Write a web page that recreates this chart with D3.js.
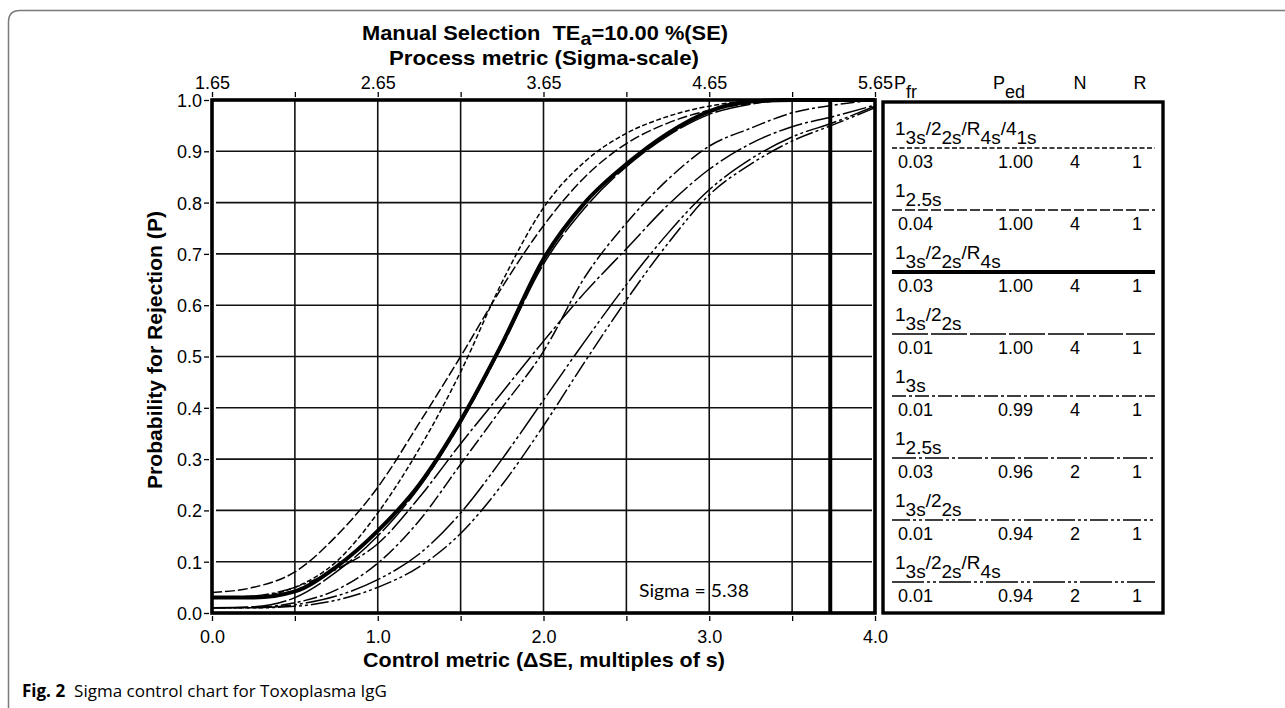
<!DOCTYPE html>
<html>
<head>
<meta charset="utf-8">
<script src="https://cdn.jsdelivr.net/npm/d3@7"></script>
<style>
  body { margin: 0; background: #fff; }
  svg { display: block; }
  .num { font-family: "Liberation Sans", Arial, sans-serif; font-size: 18px; fill: #000; }
  .narrow { font-family: "Liberation Sans Narrow", "Arial Narrow", "Liberation Sans", sans-serif; font-weight: bold; white-space: pre; }
</style>
</head>
<body>
<svg id="chart" width="1285" height="708"></svg>
<script>
// Control metric grid (ΔSE) at which curves were read
const deltaSE = [0, 0.25, 0.5, 0.75, 1.0, 1.25, 1.5, 1.75, 2.0, 2.25, 2.5, 2.75, 3.0, 3.25, 3.5, 3.75, 4.0];

// Probability of rejection per QC procedure (legend order)
const p_13s22sR4s41s_N4 = [0.03, 0.032, 0.05, 0.10, 0.195, 0.32, 0.47, 0.645, 0.79, 0.88, 0.935, 0.968, 0.988, 0.998, 1.0, 1.0, 1.0];
const p_125s_N4         = [0.04, 0.05, 0.08, 0.15, 0.245, 0.37, 0.50, 0.635, 0.755, 0.85, 0.915, 0.955, 0.98, 0.993, 1.0, 1.0, 1.0];
const p_13s22sR4s_N4    = [0.03, 0.03, 0.042, 0.09, 0.16, 0.25, 0.375, 0.525, 0.69, 0.80, 0.875, 0.935, 0.978, 0.997, 1.0, 1.0, 1.0];
const p_13s22s_N4       = [0.01, 0.012, 0.03, 0.08, 0.15, 0.245, 0.37, 0.52, 0.68, 0.79, 0.87, 0.93, 0.972, 0.992, 1.0, 1.0, 1.0];
const p_13s_N4          = [0.01, 0.011, 0.02, 0.045, 0.097, 0.18, 0.29, 0.40, 0.51, 0.655, 0.76, 0.845, 0.91, 0.945, 0.975, 0.99, 1.0];
const p_125s_N2         = [0.03, 0.033, 0.05, 0.085, 0.135, 0.225, 0.33, 0.43, 0.53, 0.625, 0.71, 0.795, 0.865, 0.915, 0.948, 0.968, 0.99];
const p_13s22s_N2       = [0.01, 0.01, 0.013, 0.025, 0.05, 0.09, 0.155, 0.25, 0.365, 0.49, 0.61, 0.72, 0.815, 0.875, 0.92, 0.952, 0.985];
const p_13s22sR4s_N2    = [0.01, 0.01, 0.016, 0.033, 0.065, 0.115, 0.195, 0.30, 0.415, 0.53, 0.64, 0.74, 0.825, 0.885, 0.928, 0.956, 0.988];

// Legend table
const rules = ["1_3s/2_2s/R_4s/4_1s", "1_2.5s", "1_3s/2_2s/R_4s", "1_3s/2_2s", "1_3s", "1_2.5s", "1_3s/2_2s", "1_3s/2_2s/R_4s"];
const pfr = ["0.03", "0.04", "0.03", "0.01", "0.01", "0.03", "0.01", "0.01"];
const ped = ["1.00", "1.00", "1.00", "1.00", "0.99", "0.96", "0.94", "0.94"];
const nVals = ["4", "4", "4", "4", "4", "2", "2", "2"];
const rVals = ["1", "1", "1", "1", "1", "1", "1", "1"];

// Axis ticks
const yTicks = [0, 0.1, 0.2, 0.3, 0.4, 0.5, 0.6, 0.7, 0.8, 0.9, 1.0];
const xTicks = [0, 0.5, 1.0, 1.5, 2.0, 2.5, 3.0, 3.5, 4.0];
const sigmaTicks = [1.65, 2.15, 2.65, 3.15, 3.65, 4.15, 4.65, 5.15, 5.65];
const sigmaValue = 5.38;

const series = [p_13s22sR4s41s_N4, p_125s_N4, p_13s22sR4s_N4, p_13s22s_N4, p_13s_N4, p_125s_N2, p_13s22s_N2, p_13s22sR4s_N2];
const dashes = ["5,2.5", "10,3", null, "36,3", "14,3,3,3", "24,3,3,3", "18,3,3,3,3,3", "32,3,3,3,3,3"];
const widths = [1.5, 1.5, 4, 1.5, 1.5, 1.5, 1.5, 1.5];

const svg = d3.select("#chart");
svg.append("rect").attr("width", 1285).attr("height", 708).attr("fill", "#fff");

// figure frame
svg.append("path")
    .attr("d", "M1285,10.5 H20 Q8.5,10.5 8.5,22 V708")
    .attr("fill", "none").attr("stroke", "#7a7a7a").attr("stroke-width", 1.5);

// Scales
const x = d3.scaleLinear().domain([0, 4]).range([212, 875]);
const y = d3.scaleLinear().domain([0, 1]).range([613, 100]);
const sx = d3.scaleLinear().domain([1.65, 5.65]).range([212, 875]);

// Grid
svg.append("g").selectAll("line")
    .data(xTicks.filter(d => d > 0 && d < 4))
    .enter().append("line")
    .attr("x1", d => x(d)).attr("x2", d => x(d))
    .attr("y1", y(1)).attr("y2", y(0))
    .attr("stroke", "#111").attr("stroke-width", 1.6);
svg.append("g").selectAll("line")
    .data(yTicks.filter(d => d > 0 && d < 1))
    .enter().append("line")
    .attr("x1", x(0) + 4).attr("x2", x(4) - 3)
    .attr("y1", d => y(d)).attr("y2", d => y(d))
    .attr("stroke", "#111").attr("stroke-width", 1.6);

// Curves
const line = d3.line()
    .x((d, i) => x(deltaSE[i]))
    .y(d => y(d))
    .curve(d3.curveMonotoneX);

svg.append("g").selectAll("path")
    .data(series)
    .enter().append("path")
    .attr("d", d => line(d))
    .attr("fill", "none")
    .attr("stroke", "#000")
    .attr("stroke-width", (d, i) => widths[i])
    .attr("stroke-dasharray", (d, i) => dashes[i]);

// Sigma line
svg.append("line")
    .attr("x1", sx(sigmaValue)).attr("x2", sx(sigmaValue))
    .attr("y1", y(1)).attr("y2", y(0))
    .attr("stroke", "#000").attr("stroke-width", 4);

svg.append("text")
    .attr("x", 639).attr("y", 597)
    .attr("textLength", 110).attr("lengthAdjust", "spacingAndGlyphs")
    .style("font-family", "Lato, 'Open Sans', sans-serif")
    .style("font-size", "18px")
    .text("Sigma = " + sigmaValue.toFixed(2));

// Plot border
svg.append("rect")
    .attr("x", x(0)).attr("y", y(1))
    .attr("width", x(4) - x(0)).attr("height", y(0) - y(1))
    .attr("fill", "none").attr("stroke", "#000").attr("stroke-width", 3.6);

// Axes
function styleAxis(g) {
  g.select(".domain").remove();
  g.selectAll(".tick line").attr("stroke", "#000").attr("stroke-width", 1.3);
  g.selectAll(".tick text").attr("class", "num").attr("fill", "#000");
}

svg.append("g")
    .attr("transform", "translate(209,0)")
    .call(d3.axisLeft(y).tickValues(yTicks).tickFormat(d3.format(".1f")).tickSize(5).tickPadding(2))
    .call(styleAxis)
    .selectAll(".tick text").attr("dy", "0.36em");

svg.append("g")
    .attr("transform", "translate(0,616)")
    .call(d3.axisBottom(x).tickValues(xTicks).tickFormat(d => d % 1 === 0 ? d.toFixed(1) : "").tickSize(5).tickPadding(9))
    .call(styleAxis);

svg.append("g")
    .attr("transform", "translate(0,97)")
    .call(d3.axisTop(sx).tickValues(sigmaTicks).tickFormat(d => Math.abs(((d - 1.65) % 1)) < 1e-6 ? d.toFixed(2) : "").tickSize(5).tickPadding(3))
    .call(styleAxis);

// Titles
const title = svg.append("text")
    .attr("class", "narrow")
    .attr("x", 545).attr("y", 40)
    .attr("text-anchor", "middle")
    .attr("textLength", 366).attr("lengthAdjust", "spacingAndGlyphs")
    .style("font-size", "21px");
title.append("tspan").text("Manual Selection  TE");
title.append("tspan").attr("dy", 5).style("font-size", "19px").text("a");
title.append("tspan").attr("dy", -5).text("=10.00 %(SE)");

svg.append("text")
    .attr("class", "narrow")
    .attr("x", 544).attr("y", 65)
    .attr("text-anchor", "middle")
    .attr("textLength", 310).attr("lengthAdjust", "spacingAndGlyphs")
    .style("font-size", "21px")
    .text("Process metric (Sigma-scale)");

svg.append("text")
    .attr("class", "narrow")
    .attr("x", 544).attr("y", 667)
    .attr("text-anchor", "middle")
    .attr("textLength", 362).attr("lengthAdjust", "spacingAndGlyphs")
    .style("font-size", "21px")
    .text("Control metric (\u0394SE, multiples of s)");

svg.append("text")
    .attr("class", "narrow")
    .attr("transform", "translate(162,350) rotate(-90)")
    .attr("text-anchor", "middle")
    .attr("textLength", 278).attr("lengthAdjust", "spacingAndGlyphs")
    .style("font-size", "21px")
    .text("Probability for Rejection (P)");

// Legend header
function subLabel(xPos, main, sub) {
  const t = svg.append("text").attr("class", "num").attr("x", xPos).attr("y", 89);
  t.append("tspan").text(main);
  t.append("tspan").attr("dy", 9).text(sub);
}
subLabel(894, "P", "fr");
subLabel(993, "P", "ed");
svg.append("text").attr("class", "num").attr("x", 1080).attr("y", 89).attr("text-anchor", "middle").text("N");
svg.append("text").attr("class", "num").attr("x", 1140).attr("y", 89).attr("text-anchor", "middle").text("R");

// Legend box
svg.append("rect")
    .attr("x", 883).attr("y", 102)
    .attr("width", 280).attr("height", 511)
    .attr("fill", "none").attr("stroke", "#000").attr("stroke-width", 3.4);

const rowH = 62;
const leg = svg.append("g");
rules.forEach(function(rule, i) {
  const base = 135 + i * rowH;
  const t = leg.append("text").attr("class", "num").attr("x", 895).style("font-size", "19px");
  rule.split("/").forEach(function(piece, k) {
    const parts = piece.split("_");
    t.append("tspan").attr("y", base).text((k > 0 ? "/" : "") + parts[0]);
    t.append("tspan").attr("y", base + 9).text(parts[1]);
  });
  leg.append("line")
      .attr("x1", 892).attr("x2", 1155)
      .attr("y1", base + 13).attr("y2", base + 13)
      .attr("stroke", "#000")
      .attr("stroke-width", widths[i])
      .attr("stroke-dasharray", dashes[i]);
  const vy = base + 33;
  leg.append("text").attr("class", "num").attr("x", 898).attr("y", vy).text(pfr[i]);
  leg.append("text").attr("class", "num").attr("x", 998).attr("y", vy).text(ped[i]);
  leg.append("text").attr("class", "num").attr("x", 1075).attr("y", vy).attr("text-anchor", "middle").text(nVals[i]);
  leg.append("text").attr("class", "num").attr("x", 1137).attr("y", vy).attr("text-anchor", "middle").text(rVals[i]);
});

// Caption
const cap = svg.append("text")
    .attr("x", 22).attr("y", 697)
    .style("font-family", "'Open Sans', 'Noto Sans', sans-serif")
    .style("font-size", "17px");
cap.append("tspan").style("font-weight", "bold").text("Fig. 2");
cap.append("tspan").attr("dx", 9).text("Sigma control chart for Toxoplasma IgG");
</script>
</body>
</html>
